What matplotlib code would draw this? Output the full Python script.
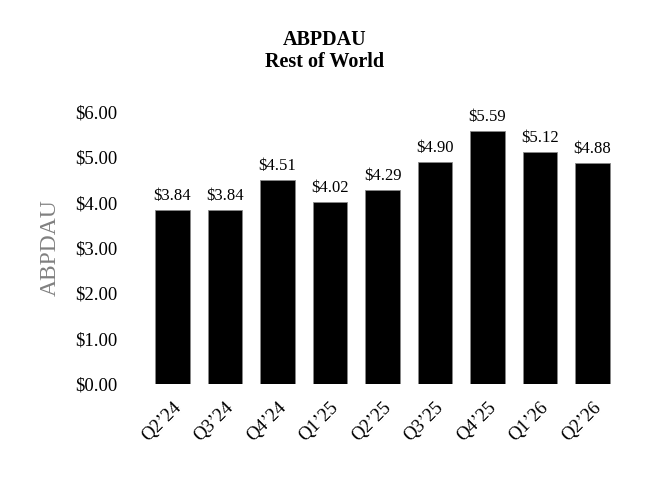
import matplotlib
matplotlib.use("Agg")
import matplotlib.pyplot as plt

plt.rcParams['font.family'] = ['Liberation Serif', 'DejaVu Serif']

quarters = ["Q2\u201924", "Q3\u201924", "Q4\u201924", "Q1\u201925", "Q2\u201925",
            "Q3\u201925", "Q4\u201925", "Q1\u201926", "Q2\u201926"]
abpdau = [3.84, 3.84, 4.51, 4.02, 4.29, 4.90, 5.59, 5.12, 4.88]
yticks = [0, 1, 2, 3, 4, 5, 6]

fig = plt.figure(figsize=(6.5, 4.8), dpi=100)
ax = fig.add_axes([0.225, 0.2, 0.727, 0.5667])

x = range(len(quarters))
bars = ax.bar(x, abpdau, width=0.65, color='black', edgecolor='#888888', linewidth=0.6)
for xi, v in zip(x, abpdau):
    ax.text(xi, v + 0.12, "${:.2f}".format(v), ha='center', va='bottom', fontsize=12)

ax.set_xlim(-0.5, len(quarters) - 0.5)
ax.set_ylim(0, 6)
ax.set_yticks(yticks)
ax.set_yticklabels(["${:.2f}".format(t) for t in yticks], fontsize=13.5)
ax.set_xticks(list(x))
ax.set_xticklabels(quarters, rotation=45, ha='right', rotation_mode='anchor', fontsize=13.5)
ax.tick_params(length=0, pad=11)
ax.tick_params(axis='y', pad=21)
for s in ax.spines.values():
    s.set_visible(False)
ax.set_ylabel("ABPDAU", fontsize=17, color='#808080', labelpad=10)

fig.text(0.5, 0.917, "ABPDAU", ha='center', va='center', fontsize=14.5, fontweight='bold')
fig.text(0.5, 0.87, "Rest of World", ha='center', va='center', fontsize=14.5, fontweight='bold')

fig.savefig("out.png", dpi=100)
